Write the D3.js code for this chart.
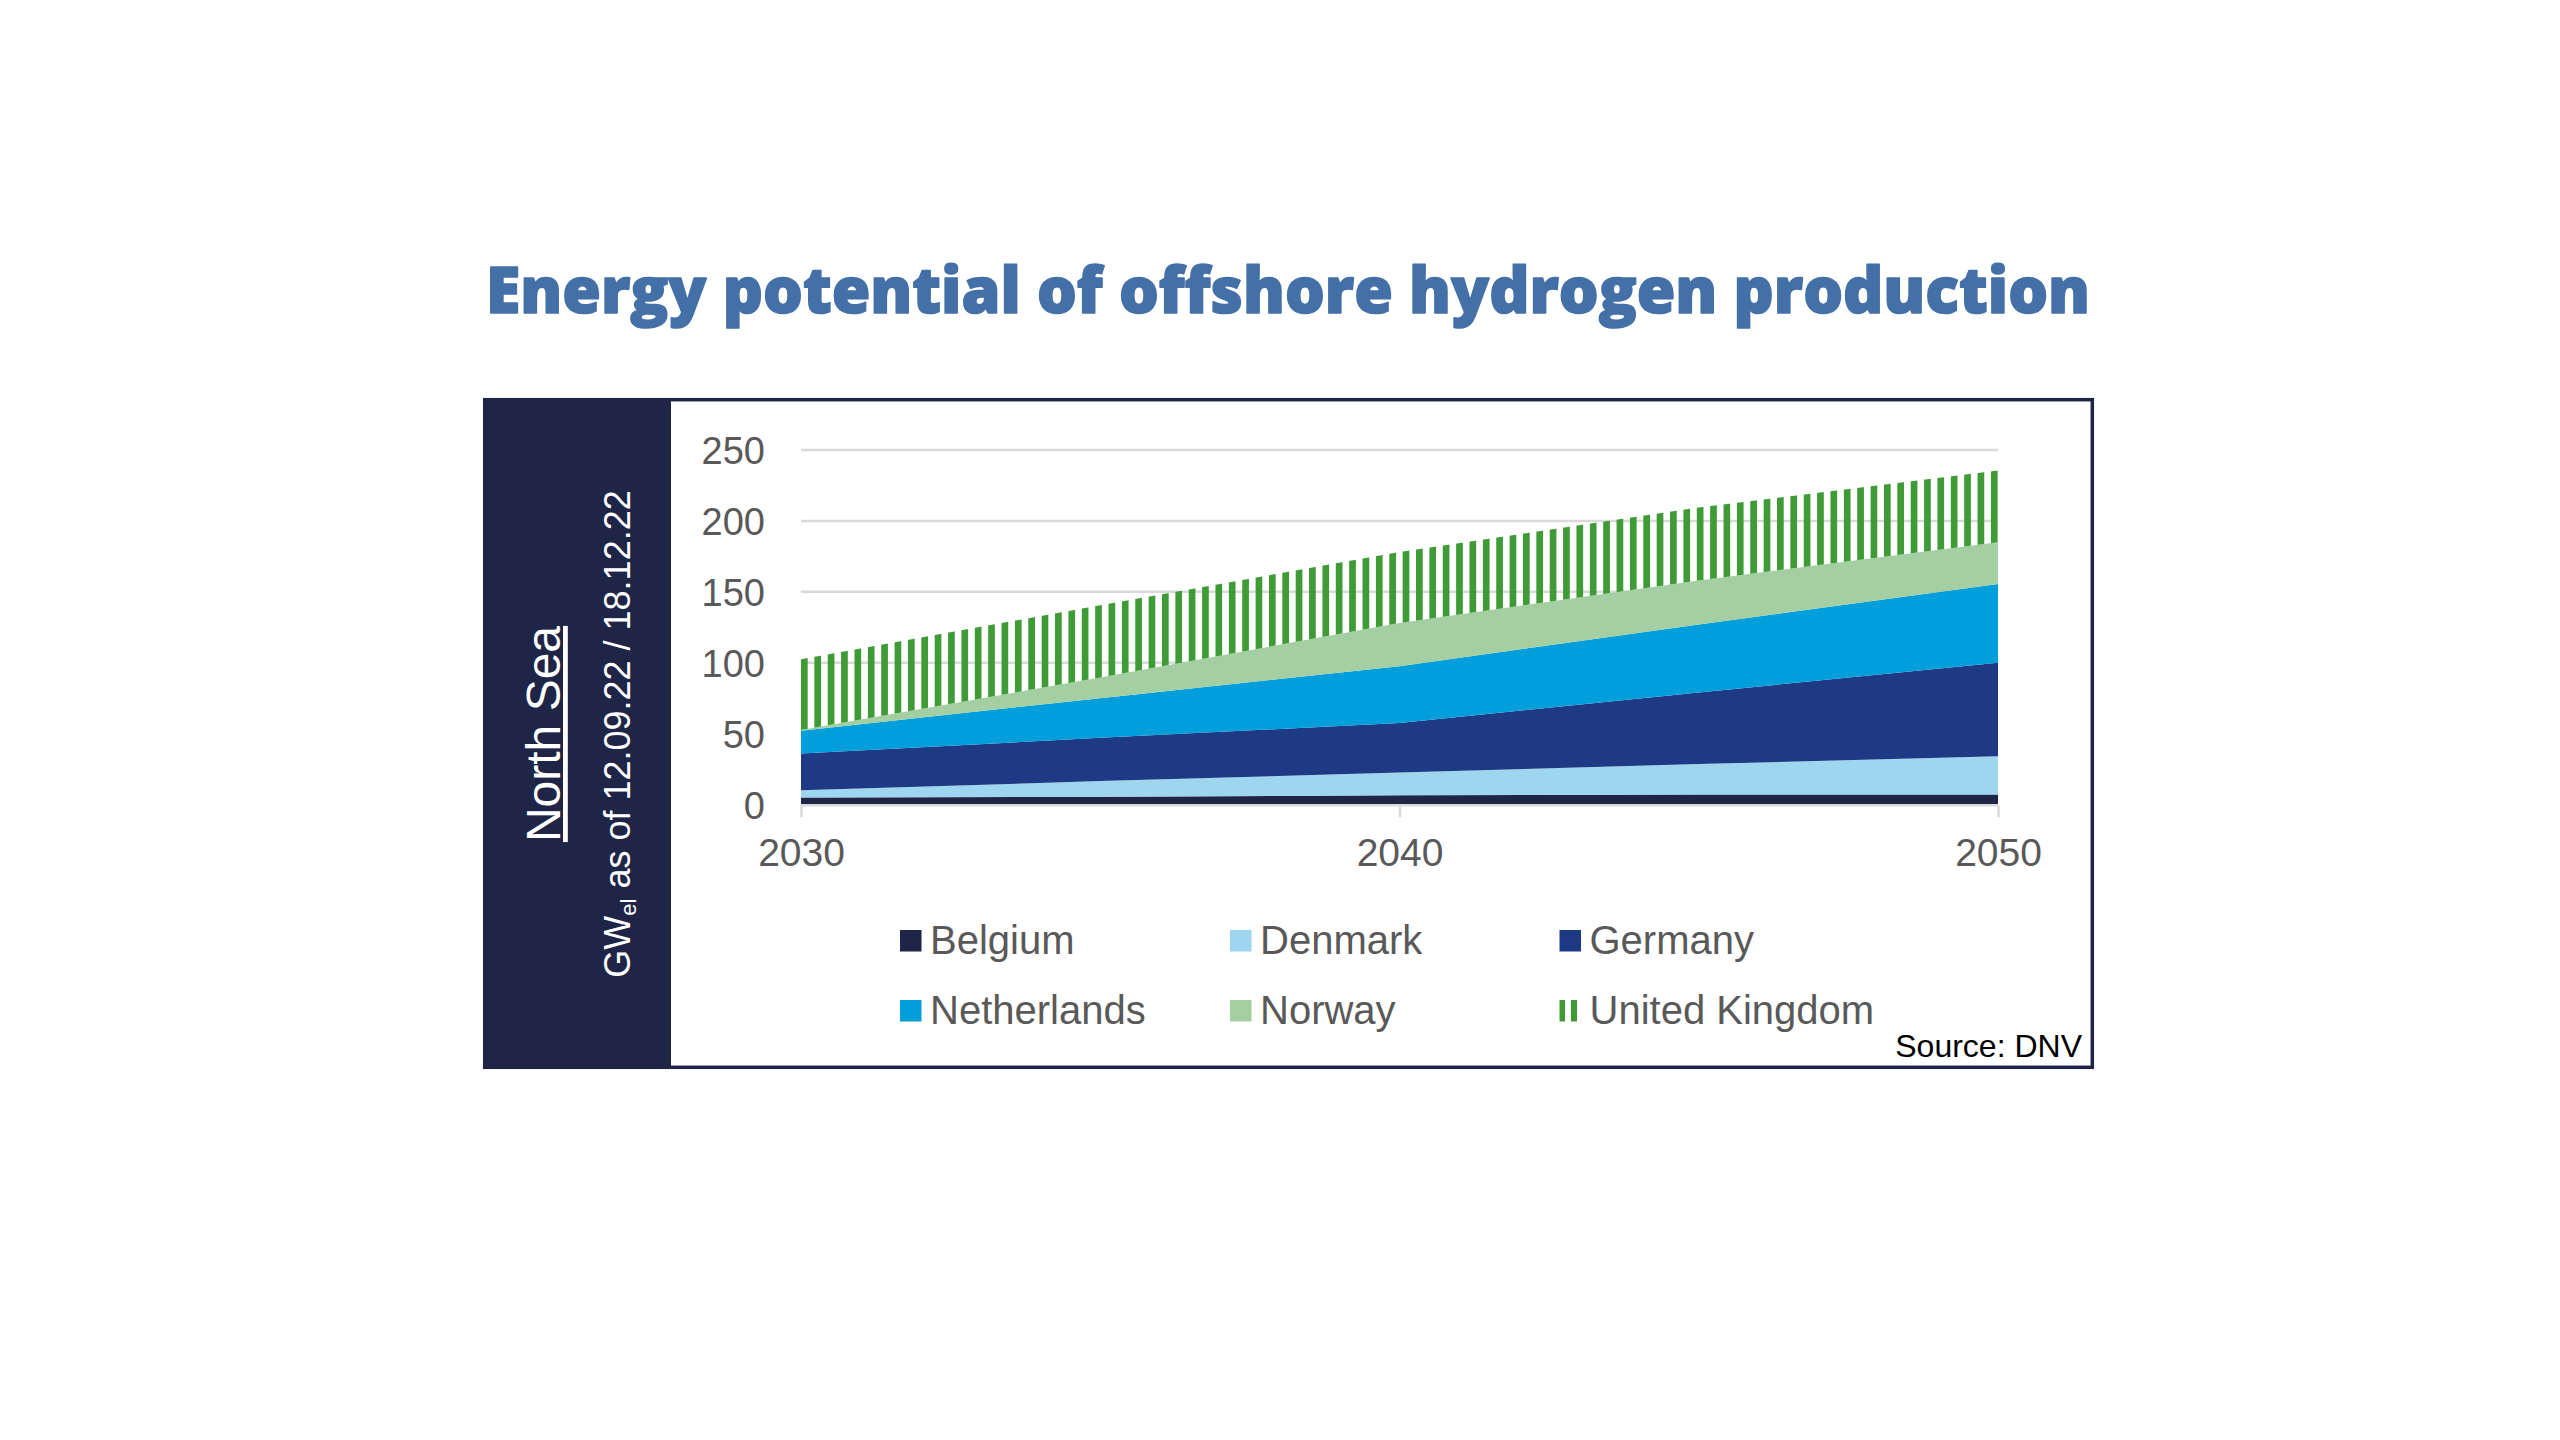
<!DOCTYPE html>
<html>
<head>
<meta charset="utf-8">
<script src="https://cdn.jsdelivr.net/npm/d3@7"></script>
<style>
  html, body { margin: 0; padding: 0; background: #ffffff; }
  svg { display: block; }
</style>
</head>
<body>
<script>
// ---------- data ----------
const years = [2030, 2035, 2040, 2045, 2050];
const belgium     = [5,   5.5,  6.5, 7,    7];
const denmark     = [5,   11,   16,  21.5, 27];
const germany     = [26,  30.5, 35,  50.5, 66];
const netherlands = [16,  28,   40,  48,   55.5];
const norway      = [0.5, 14.5, 30.5, 31,  29.5];
const uk          = [50,  51,   50,  51.5, 50.5];
const seriesNames = ["Belgium", "Denmark", "Germany", "Netherlands", "Norway", "United Kingdom"];
const yTicks = [0, 50, 100, 150, 200, 250];
const xTicks = [2030, 2040, 2050];
const titleText = "Energy potential of offshore hydrogen production";
const sideTitle = "North Sea";
const sourceText = "Source: DNV";

const colors = ["#1f2546", "#9dd6ee", "#1f3a84", "#009fdb", "#a3cfa2", "#3f9b36"];
const seriesValues = [belgium, denmark, germany, netherlands, norway, uk];

const W = 2560, H = 1440;
const svg = d3.select("body").append("svg").attr("width", W).attr("height", H);
svg.append("rect").attr("width", W).attr("height", H).attr("fill", "#fff");

const defs = svg.append("defs");
// stripe pattern for UK area
const pat = defs.append("pattern").attr("id", "ukStripes")
  .attr("patternUnits", "userSpaceOnUse").attr("x", 801).attr("y", 0)
  .attr("width", 13.37).attr("height", 40);
pat.append("rect").attr("x", 0).attr("y", 0).attr("width", 6.7).attr("height", 40).attr("fill", colors[5]);
const patL = defs.append("pattern").attr("id", "ukStripesLegend")
  .attr("patternUnits", "userSpaceOnUse").attr("x", 1559).attr("y", 0)
  .attr("width", 12).attr("height", 40);
patL.append("rect").attr("x", 0).attr("y", 0).attr("width", 6).attr("height", 40).attr("fill", colors[5]);

const FONT = "'Liberation Sans', Arial, sans-serif";

// ---------- title ----------
svg.append("text")
  .attr("x", 1288).attr("y", 313)
  .attr("text-anchor", "middle")
  .attr("font-family", "'Open Sans', 'Lato', sans-serif")
  .attr("font-weight", 800)
  .attr("font-size", 64)
  .attr("fill", "#4470a8")
  .attr("stroke", "#4470a8").attr("stroke-width", 1.6).attr("stroke-linejoin", "round")
  .attr("textLength", 1604)
  .attr("lengthAdjust", "spacingAndGlyphs")
  .text(titleText);

// ---------- frame & sidebar ----------
svg.append("rect").attr("x", 483).attr("y", 398).attr("width", 188).attr("height", 671).attr("fill", "#1f2546");
svg.append("rect").attr("x", 484.7).attr("y", 399.7).attr("width", 1607.6).attr("height", 667.6)
  .attr("fill", "none").attr("stroke", "#1f2546").attr("stroke-width", 3.5);

svg.append("text")
  .attr("transform", "translate(560,734) rotate(-90)")
  .attr("text-anchor", "middle")
  .attr("font-family", FONT).attr("font-size", 48).attr("fill", "#ffffff")
  .attr("text-decoration", "underline")
  .text(sideTitle);

const gw = svg.append("text")
  .attr("transform", "translate(630,734) rotate(-90)")
  .attr("text-anchor", "middle")
  .attr("font-family", FONT).attr("font-size", 36).attr("fill", "#ffffff");
gw.append("tspan").text("GW");
gw.append("tspan").attr("font-size", 22).attr("dy", 6).text("el");
gw.append("tspan").attr("dy", -6).text(" as of 12.09.22 / 18.12.22");

// ---------- scales ----------
const x = d3.scaleLinear().domain([2030, 2050]).range([801, 1998]);
const y = d3.scaleLinear().domain([0, 250]).range([804.5, 450]);

// gridlines
svg.append("g").selectAll("line").data(yTicks.filter(d => d > 0)).join("line")
  .attr("x1", x(2030)).attr("x2", x(2050))
  .attr("y1", d => y(d)).attr("y2", d => y(d))
  .attr("stroke", "#d9d9d9").attr("stroke-width", 2.5);

// stacked areas
const rows = years.map((yr, i) => {
  const o = { year: yr };
  seriesNames.forEach((n, k) => o[n] = seriesValues[k][i]);
  return o;
});
const stack = d3.stack().keys(seriesNames)(rows);
const area = d3.area()
  .x(d => x(d.data.year))
  .y0(d => y(d[0]))
  .y1(d => y(d[1]));
svg.append("g").selectAll("path").data(stack).join("path")
  .attr("d", area)
  .attr("fill", (d, i) => i === 5 ? "url(#ukStripes)" : colors[i]);

// x axis line & ticks
const xAxis = d3.axisBottom(x).tickValues(xTicks).tickSize(12).tickFormat(d3.format("d"));
const gx = svg.append("g").attr("transform", `translate(0,${y(0) + 0.8})`).call(xAxis);
gx.select(".domain").attr("stroke", "#d9d9d9").attr("stroke-width", 2.5).attr("d", `M${x(2030)},0H${x(2050)}`);
gx.selectAll(".tick line").attr("stroke", "#d9d9d9").attr("stroke-width", 2.5);
gx.selectAll(".tick text").attr("font-family", FONT).attr("font-size", 39).attr("fill", "#595959")
  .attr("y", 0).attr("dy", null).attr("transform", "translate(0,61)");

// y axis labels
const yAxis = d3.axisLeft(y).tickValues(yTicks).tickSize(0).tickPadding(0);
const gy = svg.append("g").attr("transform", "translate(765,0)").call(yAxis);
gy.select(".domain").remove();
gy.selectAll(".tick text").attr("font-family", FONT).attr("font-size", 38).attr("fill", "#595959")
  .attr("x", 0).attr("dy", "0.36em");

// ---------- legend ----------
const legX = [900, 1230, 1559.5];
const legY = [930, 1000];
const leg = svg.append("g");
seriesNames.forEach((n, i) => {
  const cx = legX[i % 3], cy = legY[Math.floor(i / 3)];
  leg.append("rect").attr("x", cx).attr("y", cy).attr("width", 21.5).attr("height", 21.5)
    .attr("fill", i === 5 ? "url(#ukStripesLegend)" : colors[i]);
  leg.append("text").attr("x", cx + 30).attr("y", cy + 23.5)
    .attr("font-family", FONT).attr("font-size", 40).attr("fill", "#595959").text(n);
});

// source
svg.append("text").attr("x", 2082).attr("y", 1057).attr("text-anchor", "end")
  .attr("font-family", FONT).attr("font-size", 32).attr("fill", "#000").text(sourceText);
</script>
</body>
</html>
